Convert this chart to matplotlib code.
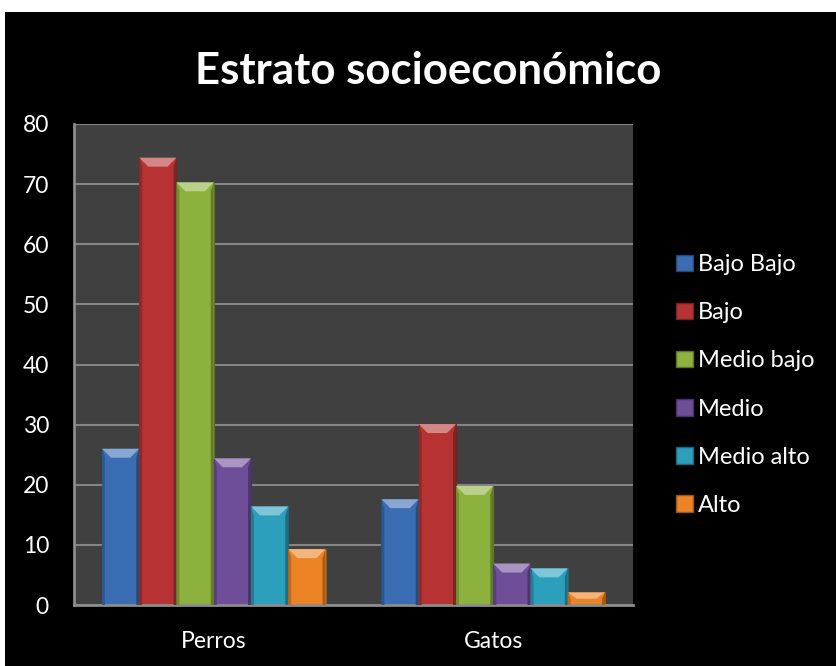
import matplotlib.pyplot as plt
import matplotlib.colors as mc
from matplotlib.patches import Rectangle, Polygon
import numpy as np

categories = ['Perros', 'Gatos']
series = ['Bajo Bajo', 'Bajo', 'Medio bajo', 'Medio', 'Medio alto', 'Alto']
perros = [26, 74.4, 70.3, 24.4, 16.4, 9.3]
gatos = [17.6, 30.1, 19.8, 6.9, 6.1, 2.1]
colors = ['#3a6db3', '#b73333', '#8cb13d', '#6e4e98', '#2b9fbc', '#ec8426']
yticks = [0, 10, 20, 30, 40, 50, 60, 70, 80]

plt.rcParams['font.family'] = ['Lato', 'DejaVu Sans']

W, H, DPI = 836, 666, 100
fig = plt.figure(figsize=(W / DPI, H / DPI), dpi=DPI, facecolor='white')
# black panel with thin white margin at top/left
fig.patches.append(Rectangle((5 / W, 0), (W - 5) / W, (H - 12) / H,
                             transform=fig.transFigure, facecolor='black',
                             edgecolor='none', zorder=-10))

ax = fig.add_axes([74 / W, 1 - 605 / H, (633 - 74) / W, (605 - 124) / H])
ax.set_zorder(1)
ax.set_facecolor('#404040')
ax.set_xlim(-0.5, 1.5)
ax.set_ylim(0, 80)
ax.set_yticks(yticks)
ax.set_xticks(range(len(categories)))
ax.set_xticklabels(categories)
ax.yaxis.grid(True, color='#858585', linewidth=1.5)
ax.set_axisbelow(True)
for s in ['top', 'right']:
    ax.spines[s].set_visible(False)
for s in ['left', 'bottom']:
    ax.spines[s].set_color('#8c8c8c')
    ax.spines[s].set_linewidth(2)
ax.tick_params(axis='both', length=0, colors='white', labelsize=16.5)
ax.tick_params(axis='y', pad=18)
ax.tick_params(axis='x', pad=19)

# pixel -> data conversion for bevel sizes
pos = ax.get_position()
px_x = 2.0 / (pos.width * W)
px_y = 80.0 / (pos.height * H)

bw = 0.8 / len(series)
x = np.arange(len(categories))
data = [perros, gatos]


def mix(c, other, t):
    a = np.array(mc.to_rgb(c))
    b = np.array(mc.to_rgb(other))
    return tuple(a * (1 - t) + b * t)


for j, name in enumerate(series):
    vals = [data[i][j] for i in range(len(categories))]
    xs = x + (j - 2.5) * bw
    bars = ax.bar(xs, vals, width=bw, color=colors[j], edgecolor=mix(colors[j], 'black', 0.35),
                  linewidth=0.8, label=name, zorder=2)
    for b in bars:
        x0, w, h = b.get_x(), b.get_width(), b.get_height()
        dx, dy = 9 * px_x, min(9 * px_y, h / 2)
        sx = 3 * px_x
        # darker side strips
        ax.add_patch(Polygon([(x0, 0), (x0, h), (x0 + sx, h - dy), (x0 + sx, 0)],
                             closed=True, facecolor=mix(colors[j], 'black', 0.2),
                             edgecolor='none', zorder=3))
        ax.add_patch(Polygon([(x0 + w, 0), (x0 + w, h), (x0 + w - sx, h - dy), (x0 + w - sx, 0)],
                             closed=True, facecolor=mix(colors[j], 'black', 0.3),
                             edgecolor='none', zorder=3))
        # lighter top bevel
        ax.add_patch(Polygon([(x0, h), (x0 + w, h), (x0 + w - dx, h - dy), (x0 + dx, h - dy)],
                             closed=True, facecolor=mix(colors[j], 'white', 0.4),
                             edgecolor='none', zorder=3))

handles = [Rectangle((0, 0), 1, 1, facecolor=c, edgecolor=mix(c, 'black', 0.35)) for c in colors]
leg = fig.legend(handles, series, loc='center left', bbox_to_anchor=(655 / W, 1 - 385 / H),
                 frameon=False, fontsize=17, labelcolor='white', labelspacing=1.15,
                 handlelength=0.7, handleheight=0.7, handletextpad=0.2)

fig.text(0.512, 1 - 84 / H, 'Estrato socioeconómico', ha='center', va='baseline',
         color='white', fontsize=31.5, fontweight='bold')

fig.savefig('out.png', dpi=DPI, facecolor=fig.get_facecolor())
